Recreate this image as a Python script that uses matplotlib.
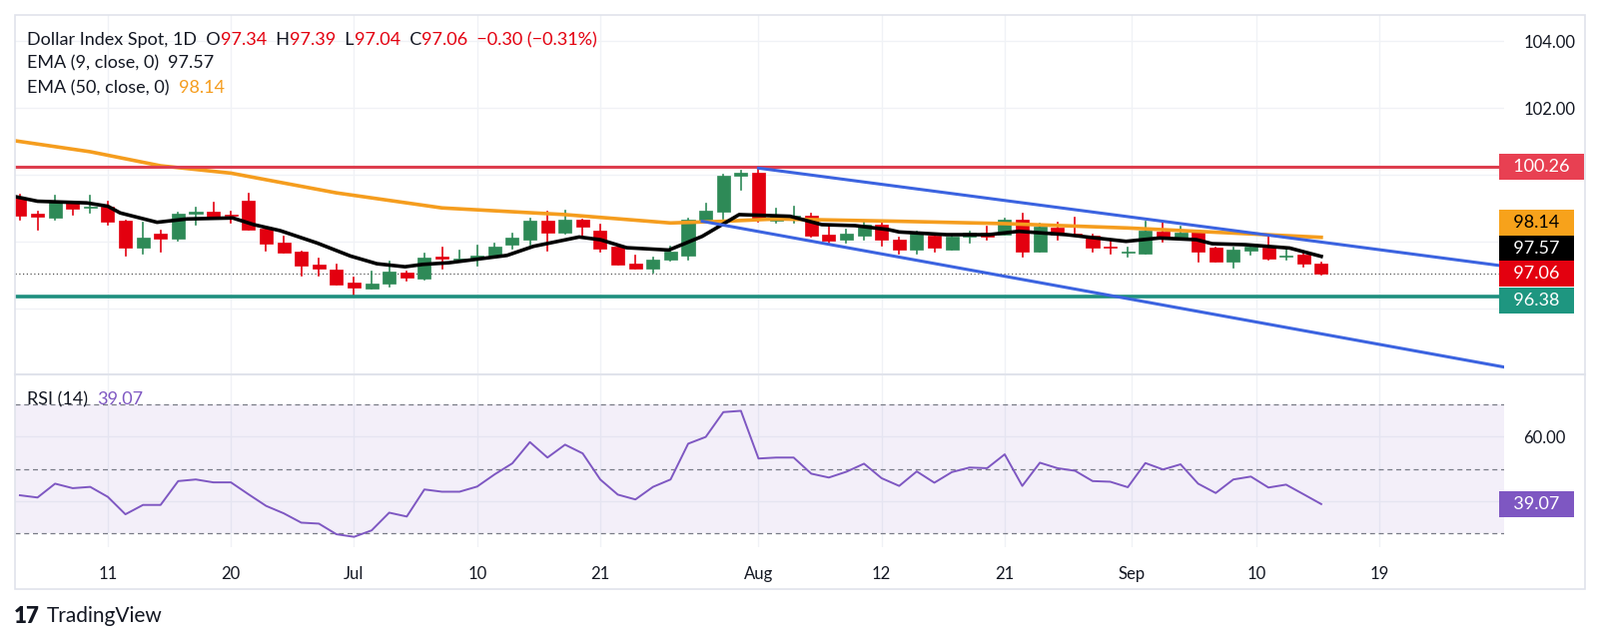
import numpy as np
import matplotlib.pyplot as plt
from matplotlib.patches import Rectangle
from matplotlib.transforms import blended_transform_factory

plt.rcParams['font.family'] = ['Lato', 'DejaVu Sans']

UP = '#2e8a57'
DOWN = '#e3000f'
TEXT = '#131722'
GRID = '#f0f2f6'
PURPLE = '#7e57c2'

# ---- data ----
opens = [99.32, 98.85, 98.74, 99.22, 99.02, 99.07, 98.64, 97.84, 98.25, 98.11,
         98.84, 98.91, 98.82, 99.24, 98.40, 97.97, 97.72, 97.31, 97.18, 96.78,
         96.62, 96.77, 97.08, 96.91, 97.55, 97.48, 97.50, 97.58, 97.93, 98.07,
         98.64, 98.27, 98.67, 98.34, 97.87, 97.36, 97.20, 97.46, 97.60, 98.65,
         98.92, 99.98, 100.08, 98.63, 98.76, 98.79, 98.22, 98.07, 98.20, 98.52,
         98.07, 97.77, 98.20, 97.77, 98.15, 98.27, 98.22, 98.67, 97.70, 98.42,
         98.24, 98.19, 97.87, 97.67, 97.65, 98.30, 98.12, 98.32, 97.82, 97.42,
         97.75, 97.84, 97.55, 97.62, 97.34]
highs = [99.42, 98.92, 99.39, 99.22, 99.39, 99.22, 98.64, 98.57, 98.35, 98.87,
         99.02, 99.19, 98.92, 99.45, 98.40, 98.17, 97.72, 97.50, 97.31, 96.93,
         97.13, 97.41, 97.13, 97.66, 97.83, 97.75, 97.90, 97.95, 98.24, 98.70,
         98.90, 98.94, 98.67, 98.52, 97.92, 97.60, 97.53, 97.87, 98.70, 99.15,
         100.01, 100.14, 100.24, 98.99, 99.07, 98.84, 98.52, 98.37, 98.65, 98.65,
         98.12, 98.32, 98.22, 98.17, 98.32, 98.47, 98.69, 98.85, 98.54, 98.57,
         98.72, 98.22, 98.07, 97.82, 98.62, 98.62, 98.47, 98.32, 97.82, 97.82,
         97.92, 98.17, 97.82, 97.72, 97.39]
lows = [98.67, 98.37, 98.67, 98.82, 98.89, 98.52, 97.60, 97.65, 97.70, 98.05,
        98.52, 98.72, 98.57, 98.37, 97.73, 97.67, 97.00, 97.00, 96.73, 96.41,
        96.62, 96.68, 96.86, 96.88, 97.20, 97.48, 97.28, 97.56, 97.79, 97.92,
        97.73, 98.25, 98.12, 97.70, 97.33, 97.20, 97.10, 97.43, 97.48, 98.62,
        98.69, 99.55, 98.62, 98.59, 98.59, 98.15, 97.97, 97.99, 98.07, 97.90,
        97.65, 97.65, 97.72, 97.77, 97.97, 98.07, 98.22, 97.57, 97.70, 98.07,
        98.19, 97.72, 97.65, 97.55, 97.65, 98.02, 98.09, 97.42, 97.42, 97.25,
        97.62, 97.47, 97.47, 97.27, 97.04]
closes = [98.80, 98.75, 99.22, 99.00, 99.05, 98.62, 97.84, 98.12, 98.10, 98.85,
          98.91, 98.77, 98.79, 98.37, 97.96, 97.67, 97.28, 97.22, 96.73, 96.63,
          96.75, 97.11, 96.95, 97.53, 97.49, 97.51, 97.60, 97.86, 98.12, 98.64,
          98.29, 98.67, 98.47, 97.81, 97.33, 97.20, 97.48, 97.70, 98.67, 98.94,
          99.98, 100.08, 98.67, 98.75, 98.79, 98.20, 98.05, 98.24, 98.52, 98.06,
          97.77, 98.24, 97.84, 98.17, 98.29, 98.17, 98.67, 97.70, 98.47, 98.22,
          98.19, 97.84, 97.84, 97.70, 98.35, 98.12, 98.29, 97.72, 97.42, 97.77,
          97.87, 97.50, 97.59, 97.34, 97.06]

ema9_x = [-0.2, 1.0, 3.8, 5.0, 5.7, 7.8, 9.5, 12.1, 13.3, 14.8, 16.9, 18.8, 20.3,
          21.9, 22.9, 24.4, 27.7, 29.2, 31.8, 33.0, 34.5, 36.9, 38.8, 40.9, 43.8,
          45.6, 47.5, 49.4, 50.0, 52.7, 55.1, 56.8, 59.5, 62.9, 64.8, 66.9, 67.8,
          69.7, 72.2, 74.0]
ema9_y = [99.35, 99.22, 99.17, 99.07, 98.87, 98.59, 98.69, 98.72, 98.52, 98.34,
          97.97, 97.58, 97.35, 97.26, 97.33, 97.38, 97.60, 97.87, 98.15, 98.07,
          97.83, 97.76, 98.17, 98.82, 98.77, 98.52, 98.49, 98.37, 98.30, 98.22,
          98.22, 98.32, 98.22, 98.02, 98.12, 98.07, 97.95, 97.92, 97.82, 97.57]
ema50_x = [-0.3, 4, 8, 12, 18, 24, 31, 37, 40, 43, 50, 56, 63, 74]
ema50_y = [101.03, 100.70, 100.28, 100.06, 99.47, 99.02, 98.82, 98.57, 98.62,
           98.69, 98.62, 98.55, 98.42, 98.14]

rsi = [41.8, 41.1, 45.4, 44.0, 44.4, 41.3, 35.9, 38.8, 38.8, 46.2,
       46.7, 45.8, 45.8, 42.1, 38.5, 36.2, 33.3, 33.0, 29.7, 28.9,
       30.9, 36.4, 35.2, 43.6, 42.9, 42.9, 44.5, 48.3, 51.7, 58.3,
       53.5, 57.5, 54.8, 46.7, 42.0, 40.5, 44.4, 46.7, 57.8, 59.9,
       67.6, 68.0, 53.2, 53.5, 53.5, 48.5, 47.3, 49.1, 51.6, 47.1,
       44.7, 49.2, 45.7, 49.0, 50.4, 50.2, 54.5, 44.7, 51.9, 50.2,
       49.4, 46.2, 46.0, 44.3, 51.8, 49.8, 51.4, 45.4, 42.5, 46.7,
       47.6, 44.2, 45.1, 42.1, 39.07]

resistance = 100.26
support = 96.38
upper_ch = ([42, 84.4], [100.21, 97.28])
lower_ch = ([38.8, 84.4], [98.62, 94.26])

xtick_pos = [5, 12, 19, 26, 33, 42, 49, 56, 63.2, 70.3, 77.3]
xtick_lab = ['11', '20', 'Jul', '10', '21', 'Aug', '12', '21', 'Sep', '10', '19']
price_ticks = [96, 98, 100, 102, 104]
price_lab = ['', '', '', '102.00', '104.00']   # the rest sit under the value boxes

XMIN, XMAX = -0.28, 84.4

fig = plt.figure(figsize=(16.02, 6.44), dpi=100, facecolor='white')
W, H = 1602, 644


def px_axes(x0, y0, x1, y1):
    return fig.add_axes([x0 / W, 1 - y1 / H, (x1 - x0) / W, (y1 - y0) / H])


ax = px_axes(15, 15, 1506, 375)
rax = px_axes(15, 375, 1506, 548)

for a in (ax, rax):
    for s in a.spines.values():
        s.set_visible(False)
    a.set_xlim(XMIN, XMAX)
    a.set_xticks(xtick_pos)
    a.grid(True, color=GRID, linewidth=1)
    a.tick_params(length=0, labelsize=12, colors=TEXT)
    a.yaxis.tick_right()
    a.set_axisbelow(True)

ax.set_ylim(94.04, 104.79)
ax.set_yticks(price_ticks)
ax.set_yticklabels(price_lab)
ax.tick_params(axis='y', pad=14)
ax.set_xticklabels([])

# candles
for i, (o, h, l, c) in enumerate(zip(opens, highs, lows, closes)):
    col = UP if c >= o else DOWN
    ax.plot([i, i], [l, h], color=col, linewidth=1.2, zorder=3)
    body = max(abs(c - o), 0.03)
    ax.add_patch(Rectangle((i - 0.37, min(o, c)), 0.74, body, facecolor=col,
                           edgecolor=col, linewidth=0.5, zorder=4))

ax.plot(ema50_x, ema50_y, color='#f59d1e', linewidth=2.6, zorder=5)
ax.plot(ema9_x, ema9_y, color='black', linewidth=2.6, zorder=5)
ax.axhline(resistance, color='#dd3e4e', linewidth=2.2, zorder=5)
ax.axhline(support, color='#1e8f7e', linewidth=2.6, zorder=5)
ax.axhline(closes[-1], color='#555555', linewidth=0.9, linestyle=(0, (1, 2)), zorder=2)
ax.plot(*upper_ch, color='#3b63e0', linewidth=2.2, zorder=6)
ax.plot(*lower_ch, color='#3b63e0', linewidth=2.2, zorder=6)

# price label boxes (positions shifted like TradingView stacks them)
trans = blended_transform_factory(ax.transAxes, ax.transData)
boxes = [(100.26, resistance, '#e84052', 'white'),
         (98.58, ema50_y[-1], '#f7a21b', 'black'),
         (97.80, ema9_y[-1], 'black', 'white'),
         (97.06, closes[-1], '#e3000f', 'white'),
         (96.25, support, '#1e9680', 'white')]
for ypos, val, fc, tc in boxes:
    ax.text(1.0, ypos, f'  {val:.2f}  ', transform=trans, ha='left', va='center',
            fontsize=13, color=tc, clip_on=False, zorder=10,
            bbox=dict(boxstyle='square,pad=0.28', fc=fc, ec='none'))

# RSI panel
rax.set_ylim(25.7, 79.3)
rax.set_yticks([40, 60])
rax.set_yticklabels(['', '60.00'])
rax.tick_params(axis='y', pad=14)
rax.set_xticklabels(xtick_lab)
rax.tick_params(axis='x', pad=14)
rax.axhspan(30, 70, color=PURPLE, alpha=0.09, linewidth=0)
for lvl in (30, 50, 70):
    rax.axhline(lvl, color='#787b86', linewidth=0.9, linestyle=(0, (4, 3)))
rax.plot(range(len(rsi)), rsi, color=PURPLE, linewidth=1.4, zorder=5)
rtrans = blended_transform_factory(rax.transAxes, rax.transData)
rax.text(1.0, rsi[-1], f'  {rsi[-1]:.2f}  ', transform=rtrans, ha='left', va='center',
         fontsize=13, color='white', clip_on=False, zorder=10,
         bbox=dict(boxstyle='square,pad=0.28', fc=PURPLE, ec='none'))

# outer frame and separator
fig.patches.append(Rectangle((15 / W, 1 - 590 / H), 1572 / W, 575 / H, transform=fig.transFigure,
                             fill=False, edgecolor='#e0e3eb', linewidth=1.2))
fig.lines.append(plt.Line2D([15 / W, 1587 / W], [1 - 375 / H] * 2, transform=fig.transFigure,
                            color='#e0e3eb', linewidth=1.5))

renderer = fig.canvas.get_renderer()


def seq_text(x, y, parts, size=13):
    for s, c in parts:
        t = fig.text(x / W, 1 - y / H, s, color=c, fontsize=size, va='center')
        x += t.get_window_extent(renderer).width


R = '#e3000f'
seq_text(27, 40, [('Dollar Index Spot, 1D  O', TEXT), ('97.34', R), ('  H', TEXT), ('97.39', R),
                  ('  L', TEXT), ('97.04', R), ('  C', TEXT), ('97.06', R),
                  ('  \u22120.30 (\u22120.31%)', R)])
seq_text(27, 63, [('EMA (9, close, 0)  ', TEXT), ('97.57', TEXT)])
seq_text(27, 88, [('EMA (50, close, 0)  ', TEXT), ('98.14', '#f59d1e')])
seq_text(27, 400, [('RSI (14)  ', TEXT), ('39.07', PURPLE)])

fig.text(14 / W, 1 - 617 / H, '17', fontsize=16, fontweight='black', color=TEXT, va='center')
fig.text(47 / W, 1 - 617 / H, 'TradingView', fontsize=15, color=TEXT, va='center')

fig.savefig('out.png', dpi=100, facecolor='white')
